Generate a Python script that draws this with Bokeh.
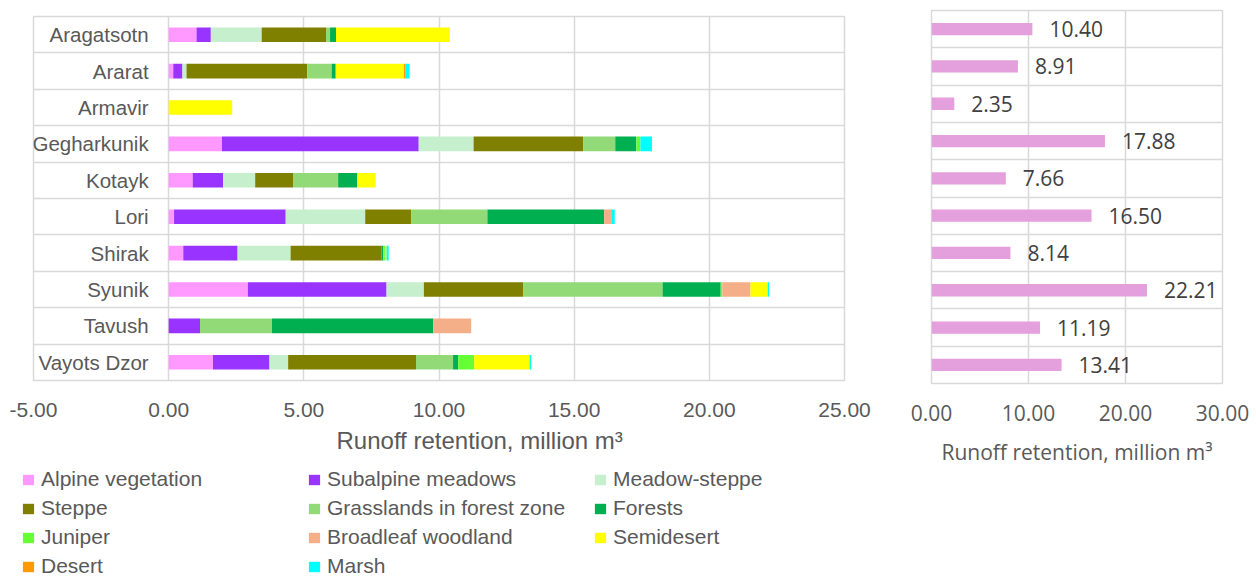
import numpy as np
from bokeh.plotting import figure
from bokeh.models import (ColumnDataSource, Range1d, FixedTicker, NumeralTickFormatter,
                          Legend, LegendItem, Title)
from bokeh.layouts import row, column
from bokeh.core.properties import value
from bokeh.embed import file_html
from bokeh.resources import INLINE

# ---------------- data ----------------
regions = ["Aragatsotn", "Ararat", "Armavir", "Gegharkunik", "Kotayk",
           "Lori", "Shirak", "Syunik", "Tavush", "Vayots Dzor"]

series_names = ["Alpine vegetation", "Subalpine meadows", "Meadow-steppe", "Steppe",
                "Grasslands in forest zone", "Forests", "Juniper", "Broadleaf woodland",
                "Semidesert", "Desert", "Marsh"]
series_colors = ["#FF99FF", "#9933FF", "#C6EFCE", "#808000", "#92D978", "#00B050",
                 "#66FF33", "#F4AE88", "#FFFF00", "#FF9900", "#00FFFF"]

alpine        = [1.03, 0.17, 0.00, 1.97, 0.89, 0.20, 0.54, 2.93, 0.00, 1.64]
subalpine     = [0.53, 0.34, 0.00, 7.28, 1.12, 4.13, 2.01, 5.13, 1.16, 2.09]
meadow_steppe = [1.88, 0.15, 0.00, 2.03, 1.19, 2.94, 1.96, 1.38, 0.00, 0.69]
steppe        = [2.38, 4.47, 0.00, 4.05, 1.40, 1.71, 3.37, 3.67, 0.00, 4.73]
grasslands    = [0.15, 0.90, 0.00, 1.19, 1.67, 2.81, 0.00, 5.16, 2.66, 1.37]
forests       = [0.22, 0.15, 0.00, 0.78, 0.70, 4.32, 0.06, 2.15, 5.97, 0.19]
juniper       = [0.00, 0.00, 0.00, 0.15, 0.00, 0.00, 0.06, 0.06, 0.00, 0.59]
broadleaf     = [0.00, 0.00, 0.00, 0.00, 0.00, 0.26, 0.00, 1.04, 1.40, 0.00]
semidesert    = [4.21, 2.52, 2.35, 0.00, 0.69, 0.00, 0.06, 0.64, 0.00, 2.05]
desert        = [0.00, 0.05, 0.00, 0.00, 0.00, 0.00, 0.00, 0.00, 0.00, 0.00]
marsh         = [0.00, 0.16, 0.00, 0.43, 0.00, 0.13, 0.08, 0.05, 0.00, 0.06]

totals = [10.40, 8.91, 2.35, 17.88, 7.66, 16.50, 8.14, 22.21, 11.19, 13.41]

x_ticks_left = [-5, 0, 5, 10, 15, 20, 25]
x_ticks_right = [0, 10, 20, 30]
axis_title = "Runoff retention, million m\u00b3"

# ---------------- sources ----------------
keys = ["alpine", "subalpine", "meadow_steppe", "steppe", "grasslands", "forests",
        "juniper", "broadleaf", "semidesert", "desert", "marsh"]
series_vals = [alpine, subalpine, meadow_steppe, steppe, grasslands, forests,
               juniper, broadleaf, semidesert, desert, marsh]
n = len(regions)
ypos = n - np.arange(n) - 0.5

data = dict(y=ypos, region=regions)
for k, v in zip(keys, series_vals):
    data[k] = v
src = ColumnDataSource(data)

rsrc = ColumnDataSource(dict(y=ypos, total=totals, label=[f"{t:.2f}" for t in totals]))

GRID = "#D9D9D9"
TXT = "#595959"
LFONT = "Liberation Sans"
RFONT = "Open Sans"

# ---------------- left chart ----------------
left = figure(width=890, height=464, x_range=Range1d(-5, 25), y_range=Range1d(0, 10),
              output_backend="svg", toolbar_location=None, y_axis_location=None,
              min_border_left=33, min_border_right=46, min_border_top=16, min_border_bottom=84)
left.outline_line_color = GRID
left.outline_line_width = 1.5
left.xgrid.ticker = FixedTicker(ticks=x_ticks_left)
left.ygrid.ticker = FixedTicker(ticks=list(range(n + 1)))
for g in (left.xgrid, left.ygrid):
    g.grid_line_color = GRID
    g.grid_line_width = 1.5
ax = left.xaxis[0]
ax.ticker = FixedTicker(ticks=x_ticks_left)
ax.formatter = NumeralTickFormatter(format="0.00")
ax.axis_line_color = None
ax.major_tick_line_color = None
ax.minor_tick_line_color = None
ax.major_tick_out = 0
ax.major_label_standoff = 22
ax.major_label_text_font_size = "21px"
ax.major_label_text_font = LFONT
ax.major_label_text_color = TXT

renderers = left.hbar_stack(keys, y="y", height=0.4, color=series_colors, line_color=None, source=src)

left.text(x=0, y="y", text="region", source=src, x_offset=-20, text_align="right",
          text_baseline="middle", text_font=value(LFONT), text_font_size="20.5px", text_color=TXT)

left.add_layout(Title(text=axis_title, align="left", offset=303, standoff=10,
                      text_font=LFONT, text_font_size="24px", text_font_style="normal",
                      text_color=TXT), "below")

# ---------------- legend strip (below left chart) ----------------
# the same stacked series, with ranges that keep the bars out of view:
# they only feed the legend keys
leg = figure(width=890, height=112, x_range=Range1d(-60, -35), y_range=Range1d(-30, -29),
             output_backend="svg", toolbar_location=None, x_axis_location=None,
             y_axis_location=None, min_border=0)
leg.frame_align = False
leg.outline_line_color = None
leg.grid.visible = False
leg_renderers = leg.hbar_stack(keys, y="y", height=0.4, color=series_colors, line_color=None,
                               source=src)
items = [LegendItem(label=nm, renderers=[r]) for nm, r in zip(series_names, leg_renderers)]
legend = Legend(items=items, orientation="horizontal", ncols=3, location=(21, -2),
                glyph_width=14, glyph_height=13, label_standoff=6, spacing=5,
                label_height=22, label_width=261,
                padding=0, margin=0, border_line_color=None, background_fill_alpha=0,
                label_text_font=LFONT, label_text_font_size="21px", label_text_color=TXT)
leg.add_layout(legend, "center")

# ---------------- right chart ----------------
right = figure(frame_width=291, frame_height=373, x_range=Range1d(0, 30), y_range=Range1d(0, 10),
               output_backend="svg", toolbar_location=None, y_axis_location=None,
               min_border_left=41, min_border_right=34, min_border_top=10, min_border_bottom=100)
right.outline_line_color = GRID
right.outline_line_width = 1.5
right.xgrid.ticker = FixedTicker(ticks=x_ticks_right)
right.ygrid.ticker = FixedTicker(ticks=list(range(n + 1)))
for g in (right.xgrid, right.ygrid):
    g.grid_line_color = GRID
    g.grid_line_width = 1.5
rax = right.xaxis[0]
rax.ticker = FixedTicker(ticks=x_ticks_right)
rax.formatter = NumeralTickFormatter(format="0.00")
rax.axis_line_color = None
rax.major_tick_line_color = None
rax.minor_tick_line_color = None
rax.major_tick_out = 0
rax.major_label_standoff = 21
rax.major_label_text_font_size = "21px"
rax.major_label_text_font = RFONT
rax.major_label_text_color = TXT
rax.axis_label = axis_title
rax.axis_label_standoff = 14
rax.axis_label_text_font = RFONT
rax.axis_label_text_font_size = "21px"
rax.axis_label_text_font_style = "normal"
rax.axis_label_text_color = TXT

right.hbar(y="y", right="total", left=0, height=0.33, color="#E4A0DC", line_color=None, source=rsrc)
right.text(x="total", y="y", text="label", source=rsrc, x_offset=17, text_align="left",
           text_baseline="middle", text_font=value(RFONT), text_font_size="21px", text_color="#404040")

layout = row(column(left, leg), right)
open("out.html", "w").write(file_html(layout, INLINE))
